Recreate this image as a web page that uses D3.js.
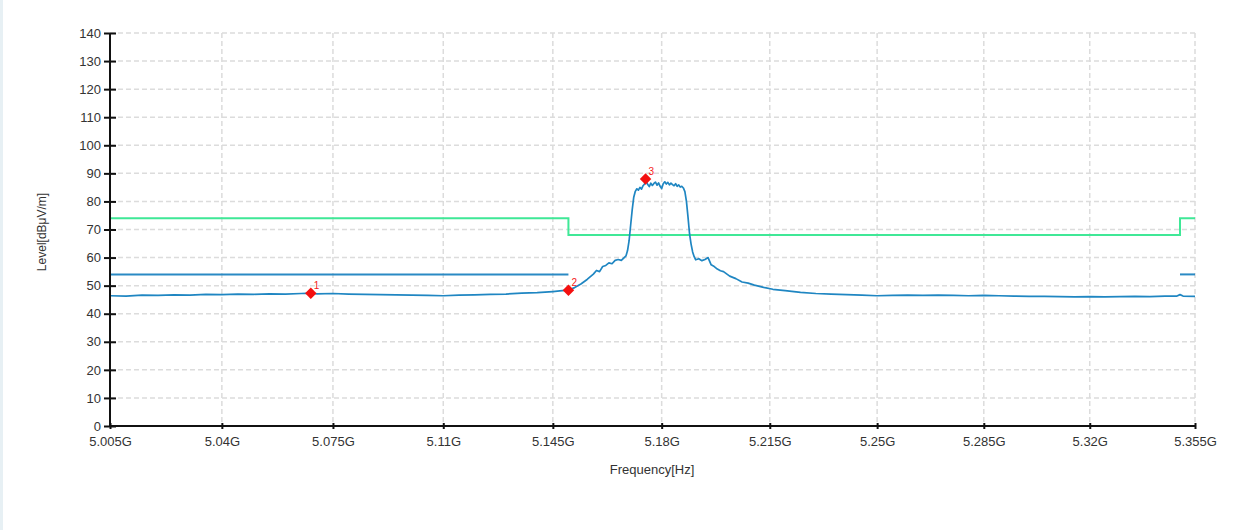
<!DOCTYPE html>
<html>
<head>
<meta charset="utf-8">
<script src="https://cdn.jsdelivr.net/npm/d3@7"></script>
<style>
  html, body { margin: 0; padding: 0; background: #fff; }
  svg { display: block; font-family: "Liberation Sans", Arial, sans-serif; }
</style>
</head>
<body>
<svg id="chart" width="1257" height="530"></svg>
<script>
// ---- Data (frequency in GHz, level in dBµV/m) ----
const traceFreq = [
  5.005, 5.010, 5.015, 5.020, 5.025, 5.030, 5.035, 5.040, 5.045, 5.050,
  5.055, 5.060, 5.065, 5.068, 5.070, 5.075, 5.080, 5.085, 5.090, 5.095,
  5.100, 5.105, 5.110, 5.115, 5.120, 5.125, 5.130, 5.135, 5.140, 5.145,
  5.148, 5.150, 5.152, 5.154, 5.156, 5.158, 5.159, 5.160, 5.161, 5.162,
  5.163, 5.164, 5.165, 5.166, 5.167, 5.168, 5.1685, 5.169, 5.1695, 5.170,
  5.1705, 5.171, 5.1715, 5.172, 5.1725, 5.173, 5.1735, 5.174, 5.1745, 5.1748,
  5.1755, 5.176, 5.1765, 5.177, 5.1775, 5.178, 5.1785, 5.179, 5.1795, 5.180,
  5.1805, 5.181, 5.1815, 5.182, 5.1825, 5.183, 5.1835, 5.184, 5.1845, 5.185,
  5.1855, 5.186, 5.1865, 5.187, 5.1875, 5.188, 5.1885, 5.189, 5.1895, 5.190,
  5.1905, 5.191, 5.192, 5.193, 5.194, 5.195, 5.196, 5.197, 5.198, 5.199,
  5.200, 5.202, 5.204, 5.206, 5.208, 5.210, 5.213, 5.216, 5.220, 5.225,
  5.230, 5.235, 5.240, 5.245, 5.250, 5.255, 5.260, 5.265, 5.270, 5.275,
  5.280, 5.285, 5.290, 5.295, 5.300, 5.305, 5.310, 5.315, 5.320, 5.325,
  5.330, 5.335, 5.340, 5.345, 5.349, 5.350, 5.351, 5.355
];
const traceLevel = [
  46.4, 46.3, 46.6, 46.5, 46.7, 46.6, 46.9, 46.8, 47.0, 46.9,
  47.1, 47.0, 47.2, 47.3, 47.1, 47.2, 47.0, 46.9, 46.8, 46.7,
  46.6, 46.5, 46.4, 46.6, 46.7, 46.9, 47.0, 47.3, 47.5, 47.9,
  48.2, 48.4, 49.3, 50.6, 52.2, 54.1, 55.4, 55.0, 56.8, 57.2,
  58.1, 57.8, 59.0, 59.3, 59.0, 60.1, 60.6, 62.5, 66.0, 71.5,
  77.0, 81.5, 83.6, 84.5, 84.0, 85.0, 84.4, 85.6, 86.2, 87.8,
  86.0, 85.3, 86.5, 85.7, 86.4, 86.9, 85.8, 86.6, 85.4, 84.6,
  86.3, 87.0, 86.2, 86.8, 85.9, 86.5, 86.0, 85.6, 86.3, 85.4,
  85.9, 85.1, 85.4, 84.8, 83.5, 80.0, 74.5, 68.5, 64.8, 62.0,
  60.3, 59.2, 59.6, 58.9, 59.3, 60.0, 57.4, 56.8, 55.9, 55.3,
  55.0, 53.4, 52.5, 51.3, 50.9, 50.2, 49.4, 48.7, 48.2, 47.6,
  47.2, 47.0, 46.8, 46.6, 46.4, 46.5, 46.6, 46.5, 46.6, 46.5,
  46.4, 46.5, 46.4, 46.3, 46.2, 46.2, 46.1, 46.0, 46.1, 46.0,
  46.1, 46.2, 46.1, 46.3, 46.3, 46.8, 46.3, 46.2
];
// Limit lines (step segments)
const greenLimitFreq  = [5.005, 5.150, 5.150, 5.350, 5.350, 5.355];
const greenLimitLevel = [74, 74, 68, 68, 74, 74];
const blueLimitSeg1Freq = [5.005, 5.150];
const blueLimitSeg2Freq = [5.350, 5.355];
const blueLimitLevel = 54;
// Markers
const markerNames = ["1", "2", "3"];
const markerFreq  = [5.068, 5.150, 5.1748];
const markerLevel = [47.3, 48.4, 88.0];
// Ticks
const xTickValues = [5.005, 5.04, 5.075, 5.11, 5.145, 5.18, 5.215, 5.25, 5.285, 5.32, 5.355];
const xTickLabels = ["5.005G", "5.04G", "5.075G", "5.11G", "5.145G", "5.18G", "5.215G", "5.25G", "5.285G", "5.32G", "5.355G"];
const yTickValues = [0, 10, 20, 30, 40, 50, 60, 70, 80, 90, 100, 110, 120, 130, 140];

// ---- Layout ----
const svg = d3.select("#chart");
const mLeft = 110, mRight = 1195, mTop = 33, mBottom = 426;

svg.append("rect").attr("x", 0).attr("y", 0).attr("width", 3).attr("height", 530).attr("fill", "#e7f0f4");

const x = d3.scaleLog().domain([5.005, 5.355]).range([mLeft, mRight]);
const y = d3.scaleLinear().domain([0, 140]).range([mBottom, mTop]);

// Grid
const grid = svg.append("g");
grid.selectAll("line.h").data(yTickValues.filter(d => d > 0)).enter().append("line")
  .attr("x1", mLeft).attr("x2", mRight)
  .attr("y1", d => y(d)).attr("y2", d => y(d))
  .attr("stroke", "#dcdcdc").attr("stroke-width", 1.5).attr("stroke-dasharray", "5,3");
grid.selectAll("line.v").data(xTickValues.slice(1)).enter().append("line")
  .attr("x1", d => x(d)).attr("x2", d => x(d))
  .attr("y1", mTop).attr("y2", mBottom)
  .attr("stroke", "#dcdcdc").attr("stroke-width", 1.5).attr("stroke-dasharray", "5,3");

// Limit lines
const line = d3.line().x(d => x(d[0])).y(d => y(d[1]));
svg.append("path")
  .datum(greenLimitFreq.map((f, i) => [f, greenLimitLevel[i]]))
  .attr("d", line).attr("fill", "none").attr("stroke", "#3fe897").attr("stroke-width", 2);
[blueLimitSeg1Freq, blueLimitSeg2Freq].forEach(seg => {
  svg.append("path")
    .datum(seg.map(f => [f, blueLimitLevel]))
    .attr("d", line).attr("fill", "none").attr("stroke", "#2a8ac4").attr("stroke-width", 2);
});

// Trace
svg.append("path")
  .datum(traceFreq.map((f, i) => [f, traceLevel[i]]))
  .attr("d", line).attr("fill", "none").attr("stroke", "#1f86c2").attr("stroke-width", 1.7)
  .attr("stroke-linejoin", "round");

// Axes
const yAxis = d3.axisLeft(y).tickValues(yTickValues).tickSizeInner(6).tickSizeOuter(0).tickPadding(4);
const gy = svg.append("g").attr("transform", `translate(${mLeft},0)`).call(yAxis);
gy.select(".domain").attr("stroke", "#111").attr("stroke-width", 2).attr("d", `M0,${mTop}V${mBottom}`);
gy.selectAll(".tick line").attr("stroke", "#111").attr("stroke-width", 2).attr("x1", -6).attr("x2", 6);
gy.selectAll(".tick text").attr("font-size", 13).attr("fill", "#333").attr("font-family", "Liberation Sans, Arial, sans-serif").attr("x", -9);

const xAxis = d3.axisBottom(x).tickValues(xTickValues).tickFormat((d, i) => xTickLabels[i]).tickSizeInner(3).tickSizeOuter(0).tickPadding(8);
const gx = svg.append("g").attr("transform", `translate(0,${mBottom})`).call(xAxis);
gx.select(".domain").attr("stroke", "#111").attr("stroke-width", 2).attr("d", `M${mLeft},0H${mRight}`);
gx.selectAll(".tick line").attr("stroke", "#111").attr("stroke-width", 2).attr("y1", -3).attr("y2", 3);
gx.selectAll(".tick text").attr("font-size", 13).attr("fill", "#333").attr("font-family", "Liberation Sans, Arial, sans-serif");

// Axis titles
svg.append("text").attr("transform", `translate(46,232) rotate(-90)`)
  .attr("text-anchor", "middle").attr("font-size", 12).attr("fill", "#333").text("Level[dBμV/m]");
svg.append("text").attr("x", 652).attr("y", 474)
  .attr("text-anchor", "middle").attr("font-size", 13).attr("fill", "#333").text("Frequency[Hz]");

// Markers (square rotated 45° = diamond)
const mk = svg.append("g");
const sym = d3.symbol().type(d3.symbolSquare).size(66);
markerNames.forEach((name, i) => {
  mk.append("path").attr("d", sym)
    .attr("transform", `translate(${x(markerFreq[i])},${y(markerLevel[i])}) rotate(45)`)
    .attr("fill", "#f41010");
  mk.append("text").attr("x", x(markerFreq[i]) + 3).attr("y", y(markerLevel[i]) - 4)
    .attr("font-size", 10).attr("fill", "#f42020").text(name);
});
</script>
</body>
</html>
